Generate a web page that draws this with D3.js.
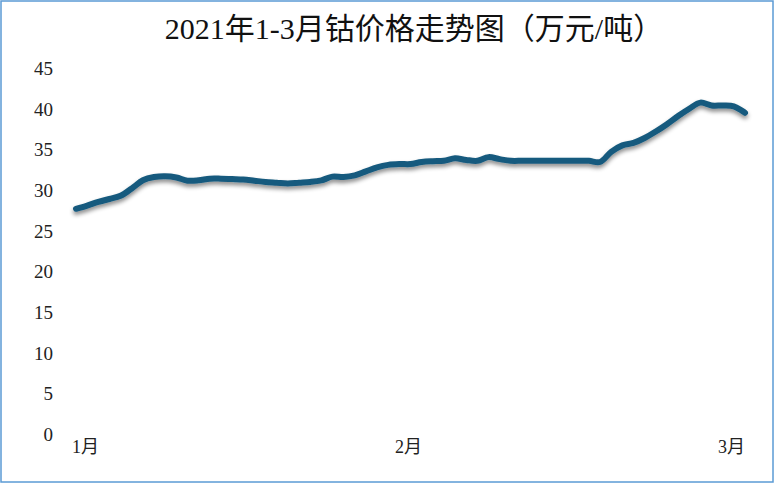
<!DOCTYPE html>
<html><head><meta charset="utf-8">
<script src="https://cdn.jsdelivr.net/npm/d3@7"></script>
<style>html,body{margin:0;padding:0;background:#fff;}svg{display:block;}</style>
</head><body>
<svg id="chart" width="776" height="485"></svg>
<script>
const title = "2021年1-3月钴价格走势图（万元/吨）";
const monthLabels = ["1月", "2月", "3月"];
const yTicks = [0, 5, 10, 15, 20, 25, 30, 35, 40, 45];
// daily cobalt price (万元/吨), Jan -> early Mar 2021
const prices = [
  27.2, 27.6, 28.05, 28.4, 28.8, 29.7, 30.7, 31.1, 31.2, 31.05,
  30.65, 30.7, 30.9, 30.9, 30.85, 30.8, 30.65, 30.5, 30.4, 30.3,
  30.4, 30.5, 30.7, 31.15, 31.1, 31.3, 31.8, 32.3, 32.6, 32.7,
  32.7, 32.95, 33.05, 33.1, 33.4, 33.2, 33.1, 33.55, 33.3, 33.1,
  33.1, 33.1, 33.1, 33.1, 33.1, 33.1, 33.1, 32.95, 34.2, 35.0,
  35.3, 35.9, 36.7, 37.6, 38.6, 39.5, 40.25, 39.9, 39.9, 39.8, 39.0
];
const days = prices.map((_, i) => i);

const svg = d3.select("#chart");

// border
svg.append("rect").attr("x", 1).attr("y", 1).attr("width", 772).attr("height", 481)
  .attr("fill", "#fff").attr("stroke", "#5b9bd5").attr("stroke-width", 1.5);

const plot = {left: 68, right: 753, top: 64, bottom: 430};
const y = d3.scaleLinear().domain([0, 45]).range([plot.bottom, plot.top]);
const x = d3.scaleLinear().domain([0, days.length - 1]).range([76, 745]);
const xm = d3.scalePoint().domain(monthLabels).range([85, 731]);

const defs = svg.append("defs");
const f = defs.append("filter").attr("id", "sh").attr("x", "-5%").attr("y", "-30%").attr("width", "110%").attr("height", "170%");
f.append("feDropShadow").attr("dx", 0).attr("dy", 3).attr("stdDeviation", 2)
  .attr("flood-color", "#000").attr("flood-opacity", 0.45);
const fg = defs.append("filter").attr("id", "gsh").attr("x", "-1%").attr("y", "-200%").attr("width", "102%").attr("height", "500%");
fg.append("feDropShadow").attr("dx", 0).attr("dy", 1).attr("stdDeviation", 0.8)
  .attr("flood-color", "#000").attr("flood-opacity", 0.15);

// title
svg.append("text").attr("x", 414).attr("y", 39).attr("text-anchor", "middle")
  .attr("font-family", "'Liberation Serif','Noto Sans CJK SC',serif")
  .attr("font-size", 30).attr("fill", "#111").text(title);

// gridlines + y axis
const yAxis = d3.axisLeft(y).tickValues(yTicks).tickSize(-(plot.right - plot.left)).tickPadding(15);
const gy = svg.append("g").attr("transform", `translate(${plot.left},0)`).call(yAxis);
gy.select(".domain").remove();
gy.selectAll(".tick line").attr("stroke", "#d4d4d4").attr("stroke-width", 1.6).attr("filter", "url(#gsh)");
gy.selectAll(".tick text").attr("font-family", "'Liberation Serif',serif").attr("font-size", 19)
  .attr("fill", "#222").attr("dy", "0.55em");

// x axis labels
const xAxis = d3.axisBottom(xm).tickSize(0).tickPadding(10);
const gx = svg.append("g").attr("transform", `translate(0,${plot.bottom})`).call(xAxis);
gx.select(".domain").remove();
gx.selectAll(".tick text").attr("font-family", "'Liberation Serif','Noto Sans CJK SC',serif")
  .attr("font-size", 18).attr("fill", "#222");

// line
const line = d3.line().x((d, i) => x(days[i])).y(d => y(d)).curve(d3.curveCatmullRom.alpha(0.5));
svg.append("path").datum(prices).attr("d", line)
  .attr("fill", "none").attr("stroke", "#175a7e").attr("stroke-width", 6)
  .attr("stroke-linecap", "round").attr("stroke-linejoin", "round")
  .attr("filter", "url(#sh)");
</script>
</body></html>
